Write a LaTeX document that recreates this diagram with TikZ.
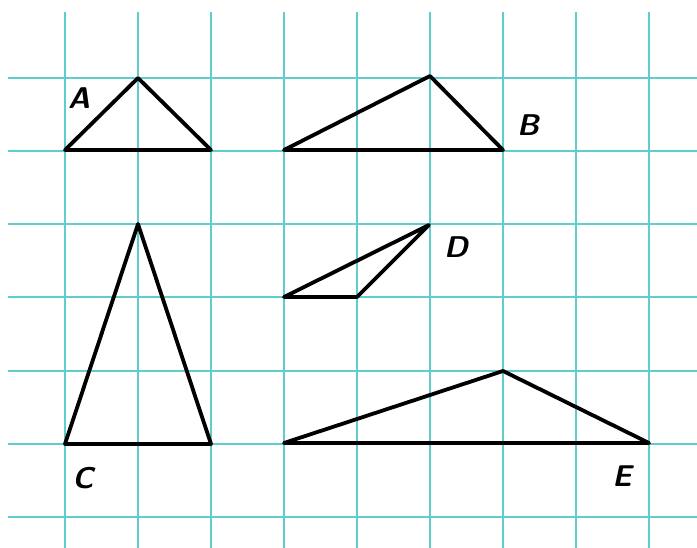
\documentclass[tikz,border=0pt]{standalone}
\usepackage{fontspec}
\begin{document}
\begin{tikzpicture}[x=1pt,y=-1pt,
  gridline/.style={draw={rgb,255:red,95;green,205;blue,205}, line width=1.8pt},
  tri/.style={draw=black, line width=3.8pt, line join=round, line cap=round},
  lbl/.style={font=\fontsize{30}{30}\selectfont\sffamily\bfseries\itshape, inner sep=0pt}]
\useasboundingbox[fill=white] (0,0) rectangle (697,548);
% grid
\foreach \x in {65,138,211,284,357,430,503,576,649} {
  \draw[gridline] (\x,12) -- (\x,548);
}
\foreach \y in {78,151,224,297,371,444,517} {
  \draw[gridline] (8,\y) -- (697,\y);
}
% triangle A
\coordinate (a1) at (65,150);
\coordinate (a2) at (138,78);
\coordinate (a3) at (211,150);
\draw[tri] (a1) -- (a2) -- (a3) -- cycle;
\node[lbl] (la) at (79,98) {A};
% triangle B
\coordinate (b1) at (284,150);
\coordinate (b2) at (430,76);
\coordinate (b3) at (503,150);
\draw[tri] (b1) -- (b2) -- (b3) -- cycle;
\node[lbl] (lb) at (528,125) {B};
% triangle C
\coordinate (c1) at (65,444);
\coordinate (c2) at (138,224);
\coordinate (c3) at (211,444);
\draw[tri] (c1) -- (c2) -- (c3) -- cycle;
\node[lbl] (lc) at (83,478) {C};
% triangle D
\coordinate (d1) at (284,297);
\coordinate (d2) at (429,225);
\coordinate (d3) at (357,297);
\draw[tri] (d1) -- (d2) -- (d3) -- cycle;
\node[lbl] (ld) at (456,247) {D};
% triangle E
\coordinate (e1) at (284,443);
\coordinate (e2) at (503,371);
\coordinate (e3) at (649,443);
\draw[tri] (e1) -- (e2) -- (e3) -- cycle;
\node[lbl] (le) at (622,476) {E};
\end{tikzpicture}
\end{document}
